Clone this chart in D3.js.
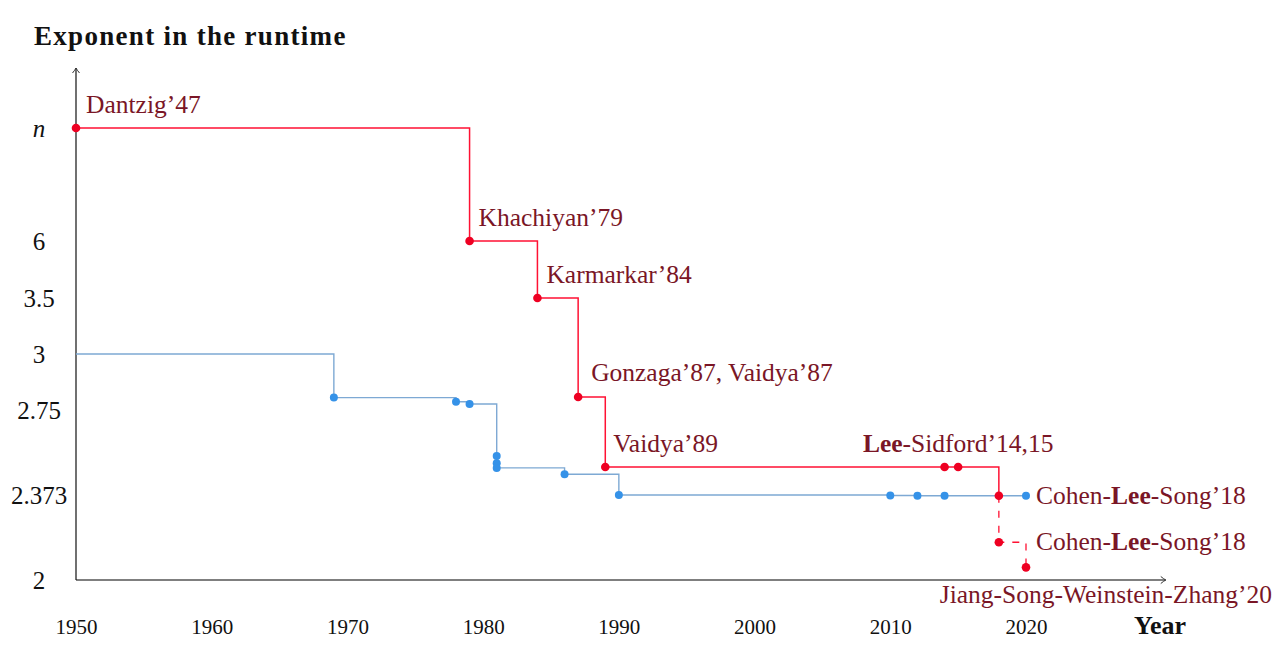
<!DOCTYPE html>
<html>
<head>
<meta charset="utf-8">
<script src="https://cdn.jsdelivr.net/npm/d3@7"></script>
<style>
  body { margin: 0; background: #fff; }
  text { font-family: "Liberation Serif", serif; }
</style>
</head>
<body>
<svg id="chart" width="1280" height="666"></svg>
<script>
// exponent ticks (n is drawn above 6)
const yTickValues = [2, 2.373, 2.75, 3, 3.5, 6, 7];
const yTickLabels = ['2', '2.373', '2.75', '3', '3.5', '6', 'n'];
const xTickValues = [1950, 1960, 1970, 1980, 1990, 2000, 2010, 2020];

// matrix multiplication exponent (blue), first entry is the start of the line
const mmYears = [1950, 1969, 1978, 1979, 1981, 1981, 1981, 1986, 1990, 2010, 2012, 2014, 2020];
const mmExp = [3, 2.807, 2.789, 2.779, 2.549, 2.517, 2.496, 2.468, 2.376, 2.374, 2.373, 2.3728, 2.3728];

// linear programming exponent (red)
const lpYears = [1950, 1979, 1984, 1987, 1989, 2014, 2015, 2018];
const lpExp = [7, 6, 3.5, 2.81, 2.5, 2.5, 2.5, 2.373];

// dashed continuation
const lpDashYears = [2018, 2018, 2020];
const lpDashExp = [2.373, 2.167, 2.056];

const labels = [
  { text: 'Dantzig’47', year: 1950, exp: 7 },
  { text: 'Khachiyan’79', year: 1979, exp: 6 },
  { text: 'Karmarkar’84', year: 1984, exp: 3.5 },
  { text: 'Gonzaga’87, Vaidya’87', year: 1987, exp: 2.81 },
  { text: 'Vaidya’89', year: 1989, exp: 2.5 },
  { text: '*Lee*-Sidford’14,15', year: 2015, exp: 2.5 },
  { text: 'Cohen-*Lee*-Song’18', year: 2020, exp: 2.3728 },
  { text: 'Cohen-*Lee*-Song’18', year: 2020, exp: 2.167 },
  { text: 'Jiang-Song-Weinstein-Zhang’20', year: 2020, exp: 2.056 },
];
// label placement: dx, dy from the point, anchor
const labelPlace = [
  [10, -15, 'start'], [9, -15, 'start'], [9, -15, 'start'], [13, -16, 'start'],
  [8, -15, 'start'], [0, -15, 'middle'], [10, 8, 'start'], [10, 8, 'start'], [246, 36, 'end'],
];

const red = '#ff1133';
const redDot = '#ee0022';
const blue = '#7ea9d4';
const blueDot = '#3592e8';
const labelColor = '#7a1626';

const svg = d3.select('#chart');

const x = d3.scaleLinear().domain([1950, 2020]).range([76, 1026]);
const y = d3.scaleLinear().domain([2, 3, 3.5, 6, 7]).range([580, 354, 298, 241, 128]);

svg.append('defs').append('marker')
  .attr('id', 'arr').attr('viewBox', '-6 -5 8 10')
  .attr('refX', 0).attr('refY', 0)
  .attr('markerWidth', 8).attr('markerHeight', 10)
  .attr('markerUnits', 'userSpaceOnUse')
  .attr('orient', 'auto')
  .append('path').attr('d', 'M-5,-3.5 Q-2,-1 0,0 Q-2,1 -5,3.5')
  .attr('fill', 'none').attr('stroke', '#333').attr('stroke-width', 1);

// axes lines
svg.append('line')
  .attr('x1', x(1950)).attr('y1', y(2)).attr('x2', x(2030.3)).attr('y2', y(2))
  .attr('stroke', '#555').attr('stroke-width', 1.4).attr('marker-end', 'url(#arr)');
svg.append('line')
  .attr('x1', x(1950)).attr('y1', y(2)).attr('x2', x(1950)).attr('y2', 68)
  .attr('stroke', '#111').attr('stroke-width', 1.2).attr('marker-end', 'url(#arr)');

// y tick labels
const yAxis = svg.append('g')
  .attr('transform', `translate(${x(1950)},0)`)
  .call(d3.axisLeft(y).tickValues(yTickValues).tickSize(0)
    .tickFormat((d, i) => yTickLabels[i]));
yAxis.select('.domain').remove();
yAxis.selectAll('text')
  .attr('x', -37).attr('dy', '0.32em')
  .attr('text-anchor', 'middle')
  .attr('font-family', '"Liberation Serif", serif')
  .attr('font-size', 25).attr('fill', '#111')
  .attr('font-style', (d, i) => yTickLabels[i] === 'n' ? 'italic' : 'normal');

// x tick labels
const xAxis = svg.append('g')
  .attr('transform', `translate(0,${y(2)})`)
  .call(d3.axisBottom(x).tickValues(xTickValues).tickSize(0).tickFormat(d3.format('d')));
xAxis.select('.domain').remove();
xAxis.selectAll('text')
  .attr('y', 54).attr('dy', 0)
  .attr('font-family', '"Liberation Serif", serif')
  .attr('font-size', 21).attr('fill', '#111');

// axis titles
svg.append('text').attr('x', 34).attr('y', 45)
  .attr('font-size', 27).attr('font-weight', 'bold').attr('letter-spacing', 1.3)
  .attr('fill', '#111').text('Exponent in the runtime');
svg.append('text').attr('x', 1134).attr('y', 634)
  .attr('font-size', 26).attr('font-weight', 'bold')
  .attr('fill', '#111').text('Year');

const step = d3.line().x(d => x(d[0])).y(d => y(d[1])).curve(d3.curveStepAfter);

// blue line
const mm = mmYears.map((t, i) => [t, mmExp[i]]);
svg.append('path').attr('d', step(mm))
  .attr('fill', 'none').attr('stroke', blue).attr('stroke-width', 1.4);
svg.selectAll('.mmdot').data(mm.slice(1)).enter().append('circle')
  .attr('cx', d => x(d[0])).attr('cy', d => y(d[1])).attr('r', 4)
  .attr('fill', blueDot);

// red line
const lp = lpYears.map((t, i) => [t, lpExp[i]]);
svg.append('path').attr('d', step(lp))
  .attr('fill', 'none').attr('stroke', red).attr('stroke-width', 1.5);
const lpDash = lpDashYears.map((t, i) => [t, lpDashExp[i]]);
svg.append('path').attr('d', step(lpDash))
  .attr('fill', 'none').attr('stroke', red).attr('stroke-width', 1.3)
  .attr('stroke-dasharray', '7,8');
svg.selectAll('.lpdot').data(lp.concat(lpDash.slice(1))).enter().append('circle')
  .attr('cx', d => x(d[0])).attr('cy', d => y(d[1])).attr('r', 4.3)
  .attr('fill', redDot);

// labels, *...* parts in bold
labels.forEach((l, i) => {
  const [dx, dy, anchor] = labelPlace[i];
  const t = svg.append('text')
    .attr('x', x(l.year) + dx).attr('y', y(l.exp) + dy)
    .attr('text-anchor', anchor)
    .attr('font-size', 25.5).attr('fill', labelColor);
  l.text.split('*').forEach((part, j) => {
    if (!part) return;
    t.append('tspan').attr('font-weight', j % 2 ? 'bold' : 'normal').text(part);
  });
});
</script>
</body>
</html>
